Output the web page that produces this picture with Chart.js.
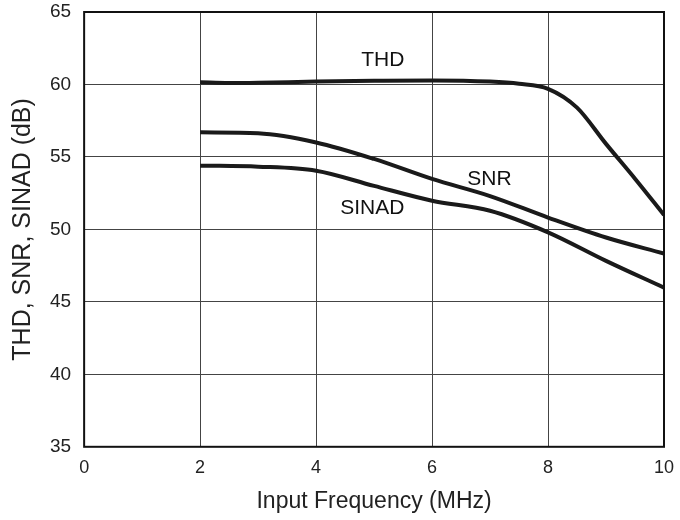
<!DOCTYPE html>
<html>
<head>
<meta charset="utf-8">
<script src="https://cdn.jsdelivr.net/npm/chart.js@4/dist/chart.umd.min.js"></script>
<style>
html,body{margin:0;padding:0;background:#fff;}
#wrap{width:680px;height:520px;}
</style>
</head>
<body>
<div id="wrap"><canvas id="c" width="680" height="520"></canvas></div>
<script>
const freq = [2, 2.5, 3, 4, 5, 6, 7, 7.5, 8, 8.5, 9, 9.5, 10];
const thd = [60.15, 60.1, 60.12, 60.2, 60.25, 60.28, 60.2, 60.05, 59.7, 58.4, 55.9, 53.5, 51.0];
const snrX = [2, 3, 4, 5, 6, 7, 8, 9, 10];
const snr = [56.7, 56.63, 56.0, 54.86, 53.48, 52.3, 50.82, 49.44, 48.33];
const sinad = [54.4, 54.33, 54.05, 53.0, 51.98, 51.29, 49.8, 47.83, 45.98];
const xTicks = [0, 2, 4, 6, 8, 10];
const yTicks = [35, 40, 45, 50, 55, 60, 65];
const curveLabels = [
  {text: 'THD', x: 5.15, y: 61.68},
  {text: 'SNR', x: 6.99, y: 53.49},
  {text: 'SINAD', x: 4.97, y: 51.45}
];

const FONT = '"Liberation Sans", Arial, Helvetica, sans-serif';
const toPts = (xs, ys) => xs.map((x, i) => ({x: x, y: ys[i]}));

const labelPlugin = {
  id: 'curveLabels',
  afterDatasetsDraw(chart) {
    const {ctx, scales: {x, y}} = chart;
    ctx.save();
    ctx.font = '21px ' + FONT;
    ctx.fillStyle = '#111';
    ctx.textAlign = 'center';
    ctx.textBaseline = 'middle';
    curveLabels.forEach(l => ctx.fillText(l.text, x.getPixelForValue(l.x), y.getPixelForValue(l.y)));
    ctx.restore();
  }
};
const framePlugin = {
  id: 'frame',
  afterDraw(chart) {
    const {ctx, chartArea: a} = chart;
    ctx.save();
    ctx.strokeStyle = '#111';
    ctx.lineWidth = 2;
    ctx.strokeRect(a.left, a.top, a.right - a.left, a.bottom - a.top);
    ctx.restore();
  }
};

const lineStyle = {
  borderColor: '#1a1a1a',
  borderWidth: 4,
  pointRadius: 0,
  fill: false,
  cubicInterpolationMode: 'monotone',
  borderCapStyle: 'butt'
};

new Chart(document.getElementById('c'), {
  type: 'scatter',
  data: {
    datasets: [
      Object.assign({label: 'THD', data: toPts(freq, thd), showLine: true}, lineStyle),
      Object.assign({label: 'SNR', data: toPts(snrX, snr), showLine: true}, lineStyle),
      Object.assign({label: 'SINAD', data: toPts(snrX, sinad), showLine: true}, lineStyle)
    ]
  },
  plugins: [labelPlugin, framePlugin],
  options: {
    responsive: false,
    animation: false,
    layout: {padding: {left: 8, right: 0, top: 0, bottom: 5}},
    plugins: {legend: {display: false}, tooltip: {enabled: false}},
    scales: {
      x: {
        type: 'linear', min: 0, max: 10,
        afterBuildTicks: s => { s.ticks = xTicks.map(v => ({value: v})); },
        afterFit: s => { s.paddingRight = 16; },
        grid: {color: '#444', lineWidth: 1, drawTicks: false},
        border: {display: false},
        ticks: {color: '#222', font: {family: FONT, size: 18}, padding: 10},
        title: {display: true, text: 'Input Frequency (MHz)', color: '#222', font: {family: FONT, size: 23}, padding: {top: -1, bottom: 0}}
      },
      y: {
        min: 35, max: 65,
        afterBuildTicks: s => { s.ticks = yTicks.map(v => ({value: v})); },
        afterFit: s => { s.paddingTop = 12; },
        grid: {color: '#444', lineWidth: 1, drawTicks: false},
        border: {display: false},
        ticks: {color: '#222', font: {family: FONT, size: 19}, padding: 13},
        title: {display: true, text: 'THD, SNR, SINAD (dB)', color: '#222', font: {family: FONT, size: 25}, padding: {top: 0, bottom: -1}}
      }
    }
  }
});
</script>
</body>
</html>
